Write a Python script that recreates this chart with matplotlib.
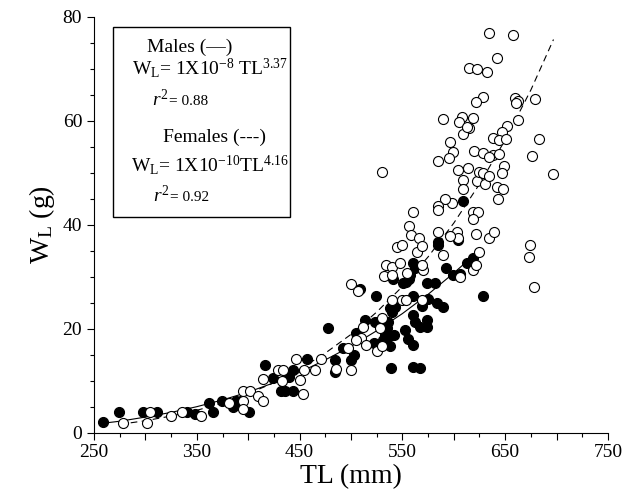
"""
Length-weight relationship, males vs females
"""
import matplotlib
matplotlib.use("Agg")
import matplotlib.pyplot as plt
from matplotlib.patches import Rectangle
from matplotlib.ticker import FixedLocator, MultipleLocator

plt.rcParams['font.family'] = ['Liberation Serif', 'DejaVu Serif']
plt.rcParams['mathtext.fontset'] = 'custom'
plt.rcParams['mathtext.rm'] = 'Liberation Serif'
plt.rcParams['mathtext.it'] = 'Liberation Serif:italic'

# males (filled circles)
male_tl = [258.5, 274.6, 298.0, 311.6, 340.2, 348.2, 362.2, 365.8, 374.8, 384.9,
           387.8, 401.1, 416.1, 423.8, 431.9, 435.8, 443.9, 440.0, 443.9, 457.5,
           477.9, 484.4, 484.4, 492.5, 500.0, 502.9, 508.8, 504.9, 513.6, 524.3,
           522.7, 531.4, 534.7, 534.7, 536.3, 539.6, 537.9, 542.8, 541.8, 537.9,
           538.9, 540.6, 550.9, 553.5, 557.4, 560.0, 562.3, 552.5, 555.7, 560.0,
           560.0, 562.3, 567.1, 573.6, 573.6, 560.6, 568.8, 573.6, 581.7, 575.2,
           583.4, 589.2, 560.0, 567.1, 592.4, 599.5, 606.0, 612.6, 619.0, 628.1,
           609.2, 604.4, 584.3, 584.9, 523.3, 529.9, 533.1, 537.3, 556.5]
male_w = [2.0, 4.0, 4.0, 4.0, 4.0, 3.5, 5.7, 4.0, 6.0, 5.0,
          6.0, 4.0, 13.0, 10.6, 8.1, 8.1, 8.1, 10.8, 12.1, 14.1,
          20.1, 14.0, 11.7, 16.2, 14.0, 14.9, 27.6, 19.2, 21.7, 26.2,
          17.2, 17.8, 19.1, 20.1, 21.3, 23.3, 23.9, 24.2, 18.8, 16.7,
          12.5, 29.5, 28.7, 29.0, 30.3, 32.6, 31.6, 19.8, 18.0, 16.9,
          22.6, 21.3, 20.4, 20.4, 21.7, 26.2, 24.4, 28.8, 28.7, 25.8,
          24.9, 24.1, 12.6, 12.4, 31.6, 30.3, 30.5, 32.7, 33.5, 26.2,
          44.6, 37.1, 36.7, 36.1, 21.3, 21.0, 18.8, 18.5, 29.5]

# females (open circles)
female_tl = [278.5, 304.5, 301.9, 324.9, 335.3, 354.1, 381.6, 395.2, 401.8, 395.2,
             394.6, 409.2, 414.1, 414.7, 429.3, 434.1, 432.6, 450.4, 453.0, 446.5,
             454.6, 465.0, 470.5, 485.1, 496.8, 500.0, 499.7, 507.1, 509.7, 514.3,
             528.2, 529.9, 525.6, 529.9, 534.0, 539.6, 547.7, 532.4, 539.6, 539.6,
             549.3, 553.5, 554.2, 563.9, 568.8, 569.7, 568.8, 589.2, 619.0, 609.2,
             622.8, 630.4, 641.7, 648.2, 643.3, 598.0, 619.0, 623.8, 619.0, 603.4,
             604.4, 621.6, 634.5, 639.4, 624.5, 621.6, 606.0, 674.1, 673.5, 678.0,
             634.5, 657.9, 641.7, 615.1, 622.3, 632.6, 628.7, 621.3, 659.5, 662.7,
             660.5, 679.0, 662.7, 607.6, 605.3, 618.9, 615.1, 609.2, 651.5, 646.6,
             637.8, 644.3, 650.8, 683.2, 596.3, 599.5, 619.6, 628.1, 638.4, 644.3,
             634.5, 675.8, 649.1, 646.6, 604.4, 614.1, 624.8, 628.7, 634.5, 696.8,
             589.8, 595.6, 584.9, 529.9, 609.2, 591.4, 584.9, 584.3, 560.0, 556.7,
             558.4, 566.4, 568.8, 544.5, 549.3, 584.3, 596.3, 504.9, 512.0, 612.5]
female_w = [1.9, 4.0, 1.9, 3.2, 4.0, 3.2, 5.7, 8.0, 8.0, 6.0,
            4.6, 7.1, 10.3, 6.0, 12.1, 12.1, 10.0, 10.1, 7.4, 14.1,
            12.1, 12.1, 14.1, 12.2, 16.2, 12.1, 28.5, 27.3, 18.3, 16.9,
            20.1, 22.1, 15.8, 16.7, 32.3, 31.9, 32.6, 30.1, 30.3, 25.5,
            25.5, 25.5, 30.7, 34.8, 25.5, 31.3, 32.3, 34.2, 31.3, 48.6,
            48.3, 47.8, 47.3, 46.8, 44.9, 44.2, 42.5, 42.5, 41.0, 38.5,
            37.4, 38.2, 37.4, 38.5, 34.8, 32.3, 30.0, 36.1, 33.8, 28.1,
            76.9, 76.5, 72.1, 70.1, 69.9, 69.4, 64.5, 63.5, 64.3, 63.7,
            63.3, 64.2, 60.1, 60.7, 59.8, 60.5, 58.5, 57.4, 59.0, 57.8,
            56.6, 56.2, 56.4, 56.5, 55.8, 54.0, 54.2, 53.7, 53.4, 53.6,
            53.1, 53.2, 51.2, 49.9, 50.5, 50.8, 50.2, 50.0, 49.4, 49.8,
            60.3, 52.8, 52.3, 50.2, 46.8, 44.9, 43.6, 42.8, 42.5, 39.8,
            38.0, 37.4, 35.9, 35.8, 36.0, 38.5, 37.8, 17.8, 20.4, 58.7]

# fitted curves
male_fit_tl = [258, 275, 300, 325, 350, 375, 400, 425, 450, 475, 500, 525, 550, 575, 600, 612]
male_fit_w = [1.8, 2.2, 3.0, 3.9, 5.0, 6.3, 7.8, 9.6, 11.6, 14.0, 16.6, 19.6, 22.9, 26.6, 30.7, 32.8]
female_fit_tl = [275, 300, 325, 350, 375, 400, 425, 450, 475, 500, 525, 550, 575, 600, 625, 650, 675, 697]
female_fit_w = [1.6, 2.3, 3.2, 4.3, 5.7, 7.5, 9.6, 12.2, 15.3, 18.9, 23.2, 28.1, 33.8, 40.3, 47.8, 56.3, 65.9, 75.6]

fig = plt.figure(figsize=(6.31, 5.04), dpi=100)
ax = fig.add_axes([0.149, 0.1415, 0.8145, 0.8255])

ax.plot(male_fit_tl, male_fit_w, color='black', lw=0.8, zorder=2)
ax.plot(female_fit_tl, female_fit_w, color='black', lw=0.8,
        dashes=(6, 4), zorder=2)
ax.scatter(male_tl, male_w, s=52, c='black', edgecolors='black',
           linewidths=0.8, zorder=3)
ax.scatter(female_tl, female_w, s=52, c='white', edgecolors='black',
           linewidths=0.8, zorder=4)

ax.set_xlim(250, 750)
ax.set_ylim(0, 80)
ax.spines['top'].set_visible(False)
ax.spines['right'].set_visible(False)

x_major = list(range(250, 751, 50))
ax.xaxis.set_major_locator(FixedLocator(x_major))
ax.set_xticklabels([str(v) if (v - 250) % 100 == 0 else '' for v in x_major])
ax.xaxis.set_minor_locator(MultipleLocator(25))
ax.yaxis.set_major_locator(MultipleLocator(20))
ax.yaxis.set_minor_locator(MultipleLocator(5))
ax.tick_params(which='major', direction='out', length=5, width=0.8, labelsize=14)
ax.tick_params(which='minor', direction='out', length=3, width=0.8)

ax.set_xlabel('TL (mm)', fontsize=20, labelpad=2)
ax.set_ylabel(r'W$_\mathregular{L}$ (g)', fontsize=20, labelpad=4)

# equation box
ax.add_patch(Rectangle((0.037, 0.518), 0.344, 0.458, transform=ax.transAxes,
                       fill=False, edgecolor='black', lw=1.0, zorder=5))
ax.text(0.187, 0.927, 'Males (—)', transform=ax.transAxes, fontsize=14,
        ha='center', va='center')
ax.text(0.226, 0.877, r'W$_\mathregular{L}$= 1X10$^{-8}$ TL$^{3.37}$',
        transform=ax.transAxes, fontsize=14, ha='center', va='center')
ax.text(0.113, 0.80, r'$r^2$', transform=ax.transAxes, fontsize=14,
        ha='left', va='center')
ax.text(0.146, 0.795, '= 0.88', transform=ax.transAxes, fontsize=11,
        ha='left', va='center')
ax.text(0.235, 0.711, 'Females (---)', transform=ax.transAxes, fontsize=14,
        ha='center', va='center')
ax.text(0.226, 0.644, r'W$_\mathregular{L}$= 1X10$^{-10}$TL$^{4.16}$',
        transform=ax.transAxes, fontsize=14, ha='center', va='center')
ax.text(0.115, 0.571, r'$r^2$', transform=ax.transAxes, fontsize=14,
        ha='left', va='center')
ax.text(0.148, 0.566, '= 0.92', transform=ax.transAxes, fontsize=11,
        ha='left', va='center')

fig.savefig('out.png', dpi=100)
